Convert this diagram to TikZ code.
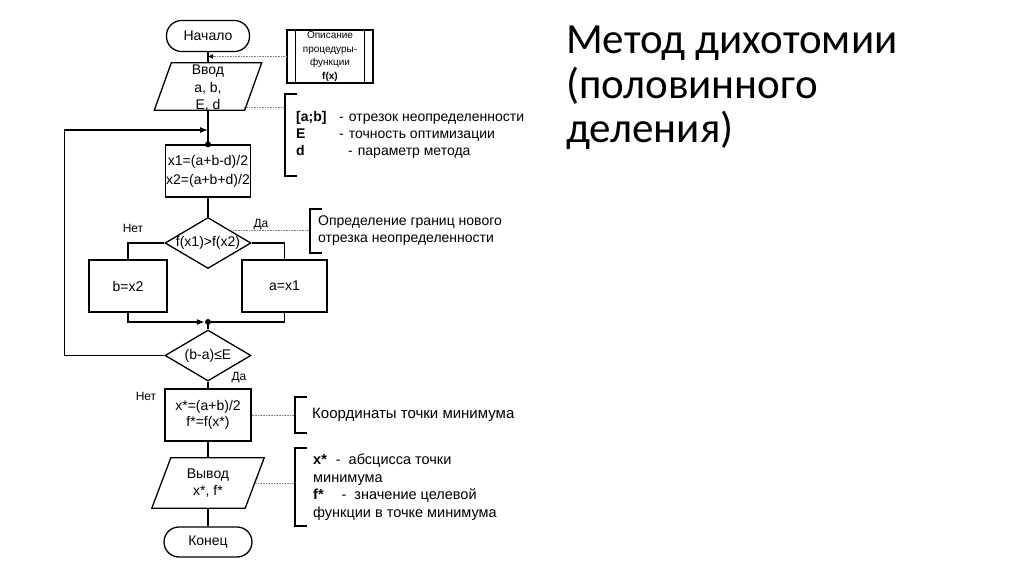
\documentclass[tikz,border=0pt]{standalone}
\usepackage{fontspec}
\setmainfont{Liberation Sans}
\newfontfamily\titlefont{Carlito}
\usetikzlibrary{arrows.meta, shapes.geometric}

\begin{document}
\begin{tikzpicture}[x=1pt, y=-1pt,
  line/.style={line width=1.3pt},
  arr/.style={-{Latex[length=8pt, width=6pt]}},
  link/.style={gray, line width=0.6pt, densely dotted},
  bracket/.style={line width=1.8pt},
  lbl/.style={font=\fontsize{14}{17.5}\selectfont, align=center},
  term/.style={draw, line width=1.3pt, rounded corners=15pt, minimum width=83pt, minimum height=31pt, inner sep=0pt, font=\fontsize{14}{17}\selectfont},
  proc/.style={draw, line width=1.3pt, minimum width=85pt, minimum height=52pt, inner sep=0pt, align=center, font=\fontsize{14}{17}\selectfont},
  io/.style={minimum width=90pt, minimum height=47pt, inner sep=0pt, align=center, font=\fontsize{14}{17}\selectfont},
  dec/.style={draw, line width=1.3pt, diamond, minimum width=86pt, minimum height=51pt, inner sep=1pt},
  descbox/.style={draw, line width=1.3pt, minimum width=86pt, minimum height=53pt, inner sep=0pt, align=center, font=\fontsize{10}{13.5}\selectfont},
  note/.style={anchor=west, align=left, inner xsep=#1, inner ysep=0pt, font=\fontsize{14}{17}\selectfont},
  note/.default=10pt,
  small/.style={font=\fontsize{12}{14}\selectfont},
  dot/.style={circle, fill, inner sep=0pt, minimum size=6pt}]
\useasboundingbox (0,0) rectangle (1024,574);
\fill[white] (0,0) rectangle (1024,574);

% title
\node[anchor=north west, align=left, inner sep=0pt, font=\titlefont\fontsize{43}{44.5}\selectfont] (title) at (566,26) {Метод дихотомии\\(половинного\\деления)};

% flowchart
\node[term] (start) at (208,36) {Начало};
\node[descbox] (desc) at (330,56.5) {Описание\\процедуры-\\функции\\\textbf{f(x)}};
\node[io] (vvod) at (208,86.5) {\strut};
\node[lbl] (vvodtext) at (208,88.5) {Ввод\\a, b,\\E, d};
\node[proc, font=\fontsize{14}{19}\selectfont] (calc) at (208,171) {x1=(a+b-d)/2\\x2=(a+b+d)/2};
\node[dec] (cmp) at (208,243) {\strut};
\node[lbl] (cmptext) at (cmp.center) {f(x1)>f(x2)};
\node[proc, minimum width=78pt] (bbox) at (128,286) {b=x2};
\node[proc] (abox) at (284.5,286) {a=x1};
\node[dot] (join) at (208,322) {};
\node[dec] (check) at (208,355.5) {\strut};
\node[lbl] (checktext) at (check.center) {(b-a)≤E};
\node[proc, minimum width=86pt, font=\fontsize{14}{16}\selectfont] (res) at (208,415) {x*=(a+b)/2\\f*=f(x*)};
\node[io, minimum width=93pt, minimum height=50pt] (vyvod) at (208,483) {Вывод\\x*, f*};
\node[term, minimum width=88pt, minimum height=30pt] (stop) at (208,542) {Конец};
\coordinate (loopin) at (208,130);
\foreach \n/\s in {vvod/8.5, vyvod/9.5}
  \draw[line] ([xshift=\s pt]\n.north west) -- ([xshift=\s pt]\n.north east) -- ([xshift=-\s pt]\n.south east) -- ([xshift=-\s pt]\n.south west) -- cycle;

% branch labels
\node[small] (no1) at (133,228) {Нет};
\node[small] (yes1) at (261,225) {Да};
\node[small] (yes2) at (239,378) {Да};
\node[small] (no2) at (146,396) {Нет};

% notes
\node[note=11pt, minimum height=82pt] (noteab) at (285,135) {\makebox[43pt][l]{\textbf{[a;b]}}-\hspace{5pt}отрезок неопределенности\\\makebox[43pt][l]{\textbf{E}}-\hspace{5pt}точность оптимизации\\\makebox[52pt][l]{\textbf{d}}-\hspace{5pt}параметр метода};
\node[note=8pt, minimum height=44pt] (notebound) at (310,231) {Определение границ нового\\отрезка неопределенности};
\node[note=17pt, minimum height=36pt, font=\fontsize{15}{17}\selectfont] (notemin) at (295,415) {Координаты точки минимума};
\node[note=18pt, minimum height=78pt, font=\fontsize{14.5}{17.5}\selectfont] (noteout) at (295,487) {\textbf{x*}\hspace{9pt}-\hspace{8pt}абсцисса точки\\минимума\\\textbf{f*}\hspace{18pt}-\hspace{8pt}значение целевой\\функции в точке минимума};
\coordinate (abin) at (noteab.west |- vvod.south);

\draw[line] (start) -- (vvod);
\draw[line] (vvod) -- (calc);
\draw[line, arr] (check.west) -- ++(-100,0) |- (loopin);
\node[dot] (dtop) at (calc.north) {};
\draw[line] (calc) -- (cmp);
\draw[line] (cmp.west) -| (bbox.north);
\draw[line] (cmp.east) -| (abox.north);
\draw[line, arr] (bbox.south) |- (join);
\draw[line] (abox.south) |- (join);
\draw[line] (join) -- (check);
\draw[line] (check) -- (res);
\draw[line] (res) -- (vyvod);
\draw[line] (vyvod) -- (stop);
\draw[line] ([xshift=9pt]desc.north west) -- ([xshift=9pt]desc.south west);
\draw[line] ([xshift=-9pt]desc.north east) -- ([xshift=-9pt]desc.south east);

% dotted links to the notes
\draw[link, -{Latex[length=5pt, width=5pt, black]}] (desc.west) -- (desc.west -| start);
\draw[link] ([xshift=-9pt, yshift=3pt]vvod.south east) -- ([yshift=3pt]abin);
\draw[link] (cmp.north east) -- (cmp.north east -| notebound.west);
\draw[link] (res.east) -- (res.east -| notemin.west);
\draw[link] (vyvod.east) -- (vyvod.east -| noteout.west);
\foreach \n in {noteab, notebound, notemin, noteout}
  \draw[bracket] ([xshift=12pt]\n.north west) -- (\n.north west) -- (\n.south west) -- ([xshift=12pt]\n.south west);
\end{tikzpicture}
\end{document}
